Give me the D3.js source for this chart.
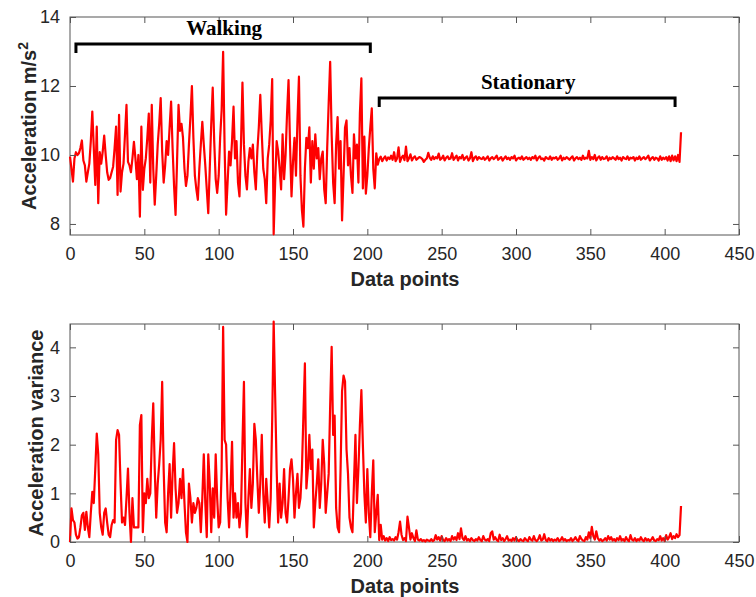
<!DOCTYPE html>
<html><head><meta charset="utf-8">
<script src="https://cdn.jsdelivr.net/npm/d3@7"></script>
<style>body{margin:0;background:#fff}</style>
</head><body>
<svg id="c" width="756" height="597"></svg>
<script>
// ---- data ----
const accelWalking = [9.95,9.6,9.23,9.9,10.08,10.0,10.05,10.2,10.42,9.84,9.7,9.23,9.5,9.75,10.4,11.26,10.2,9.13,10.82,8.6,
10.08,9.75,10.1,10.56,10.0,9.5,9.28,9.33,9.5,9.66,10.2,10.82,8.84,11.16,8.94,9.5,9.75,10.6,11.45,9.8,
9.7,9.5,9.9,10.38,9.9,9.3,10.0,8.21,10.82,8.99,9.6,9.9,10.5,11.2,9.2,11.45,9.6,8.56,9.4,10.3,
10.9,11.65,10.1,9.2,9.7,10.4,10.0,10.8,11.55,10.2,9.1,8.26,9.8,11.45,10.7,10.9,10.5,9.6,9.1,9.4,
10.3,11.1,12.0,10.5,9.4,9.0,8.7,9.6,10.3,10.96,10.3,9.7,9.0,8.31,9.6,10.9,11.95,10.4,9.3,8.9,
9.4,10.5,11.3,12.99,10.2,8.27,9.2,10.1,9.7,10.4,11.4,9.9,10.4,9.2,8.8,10.3,12.1,10.3,9.4,9.0,
9.8,10.2,9.9,10.3,9.5,9.0,10.1,10.8,11.74,10.6,9.6,9.3,8.6,9.9,10.3,11.0,12.2,7.7,9.2,10.4,
10.1,9.6,9.0,10.6,9.3,10.0,11.2,12.17,10.3,8.8,9.8,10.5,9.4,11.0,12.27,9.4,8.4,7.92,9.6,10.5,
10.2,10.8,9.2,10.4,9.6,10.6,9.9,10.2,9.3,9.9,10.1,9.0,8.6,10.2,11.5,12.7,10.6,9.2,8.6,10.3,
11.1,9.6,10.4,8.1,9.4,10.8,11.0,9.7,10.2,9.4,8.9,10.6,9.9,10.3,9.2,11.2,12.22,9.03,10.53,8.88,
9.4,10.2,10.8,11.35,9.6,9.03];
const accelStationary = [10.05,9.72,9.88,9.95,9.82,9.9,9.96,9.84,9.93,9.88,
9.98,9.86,10.08,9.82,9.9,10.22,9.8,9.92,9.98,9.85,
10.24,9.82,9.9,10.02,9.84,9.92,9.96,9.86,9.9,9.94,
9.92,9.88,9.8,9.86,9.9,10.06,9.92,9.86,9.96,9.88,
9.94,9.9,10.04,9.86,9.9,9.98,9.84,9.92,9.96,9.88,
9.9,10.05,9.86,9.92,9.98,9.84,9.94,9.9,10.0,9.86,
9.92,9.96,9.84,9.9,10.08,9.82,9.92,9.96,9.86,9.94,
9.9,9.88,9.94,9.86,9.9,9.96,9.84,9.9,9.94,9.88,
9.92,9.98,9.86,9.9,9.94,9.84,9.9,9.96,9.88,9.92,
9.86,9.94,9.9,9.98,9.84,9.9,9.92,9.88,9.96,9.86,
9.9,9.94,9.88,9.92,9.86,9.94,9.9,9.98,9.84,9.92,
9.96,9.88,9.9,9.84,9.94,9.9,9.88,9.96,9.86,9.92,
9.9,9.94,9.86,9.9,9.98,9.84,9.92,9.88,9.94,9.9,
9.86,9.92,9.96,9.84,9.9,9.94,9.88,9.92,9.86,9.98,
9.88,9.92,9.9,10.12,9.86,9.94,9.88,10.0,9.84,9.92,
9.96,9.86,9.94,9.88,9.9,9.96,9.84,9.92,9.88,9.94,
9.9,9.86,9.96,9.88,9.92,9.84,9.94,9.9,9.88,9.96,
9.86,9.92,9.9,9.94,9.84,9.92,9.88,9.96,9.86,9.9,
9.94,9.88,9.92,9.98,9.84,9.9,9.94,9.86,9.92,9.9,
9.84,9.96,9.86,9.92,9.88,9.94,9.84,9.96,9.82,9.98,
9.84,9.96,9.82,10.0,9.8,10.66];
const varWalking = [0.0,0.69,0.45,0.4,0.15,0.07,0.1,0.3,0.55,0.6,0.25,0.62,0.3,0.1,0.6,1.03,0.8,1.5,2.23,1.8,
0.6,0.3,0.15,0.6,0.69,0.4,0.15,0.1,0.35,0.45,0.4,2.1,2.3,2.2,1.2,0.4,0.5,0.35,0.9,1.51,
0.6,0.0,0.9,0.3,0.3,0.3,0.3,2.4,2.61,0.2,1.0,0.8,1.3,0.9,1.0,2.1,2.85,1.5,0.5,1.2,
1.6,2.1,3.29,1.5,0.4,0.2,1.0,1.6,0.5,1.4,2.03,1.1,0.6,0.8,1.3,0.9,1.5,0.8,0.2,0.0,
1.2,0.9,0.4,0.8,0.6,0.7,0.9,0.8,0.2,0.9,1.8,0.8,0.1,1.8,1.2,0.2,1.1,0.5,1.8,0.9,
0.3,0.4,1.5,4.42,2.1,2.0,0.9,0.3,1.1,2.06,0.5,1.0,0.5,0.8,0.3,0.6,2.0,3.29,0.8,0.1,
0.9,1.5,0.7,1.2,2.43,2.1,1.3,0.6,1.2,2.2,1.0,0.4,1.3,0.8,0.3,0.9,2.5,4.53,3.0,1.5,
0.4,1.2,0.5,0.8,1.5,0.6,0.4,0.9,1.5,1.7,1.3,0.5,1.0,1.4,0.7,0.9,1.5,2.6,3.67,1.1,
1.5,2.2,1.5,1.9,0.3,0.8,1.2,1.7,0.7,1.2,2.1,1.6,0.6,1.0,1.4,2.8,4.01,2.2,2.6,0.7,
0.3,0.2,1.5,3.1,3.42,3.3,1.9,1.4,0.5,0.3,0.2,1.2,2.2,0.8,1.5,2.4,3.12,2.0,1.0,0.4,
1.5,0.6,0.1,1.0,1.68,0.2];
const varStationary = [0.6,0.97,0.04,0.35,0.05,0.12,0.03,0.08,0.02,0.1,
0.04,0.06,0.03,0.1,0.05,0.2,0.42,0.15,0.04,0.08,
0.02,0.52,0.3,0.05,0.18,0.08,0.02,0.24,0.05,0.03,
0.06,0.02,0.04,0.01,0.05,0.03,0.02,0.06,0.02,0.04,
0.14,0.05,0.1,0.03,0.12,0.04,0.02,0.08,0.03,0.06,
0.02,0.12,0.05,0.1,0.04,0.18,0.06,0.28,0.08,0.04,
0.12,0.03,0.06,0.02,0.08,0.04,0.02,0.06,0.03,0.1,
0.04,0.02,0.12,0.05,0.03,0.06,0.02,0.18,0.22,0.05,
0.1,0.04,0.02,0.15,0.04,0.08,0.02,0.06,0.12,0.03,
0.05,0.02,0.08,0.03,0.1,0.04,0.02,0.06,0.03,0.02,
0.08,0.04,0.02,0.1,0.05,0.03,0.12,0.04,0.02,0.06,
0.14,0.03,0.05,0.16,0.04,0.02,0.08,0.03,0.06,0.02,
0.05,0.03,0.08,0.02,0.04,0.1,0.03,0.06,0.02,0.04,
0.03,0.08,0.02,0.05,0.1,0.04,0.02,0.12,0.06,0.03,
0.02,0.1,0.05,0.2,0.08,0.31,0.12,0.05,0.22,0.08,
0.03,0.06,0.02,0.04,0.08,0.03,0.12,0.05,0.1,0.03,
0.06,0.02,0.08,0.04,0.12,0.03,0.06,0.02,0.1,0.04,
0.02,0.14,0.05,0.03,0.08,0.02,0.06,0.03,0.1,0.04,
0.02,0.08,0.03,0.06,0.02,0.05,0.1,0.03,0.02,0.06,
0.04,0.12,0.03,0.08,0.02,0.14,0.05,0.1,0.18,0.06,
0.12,0.08,0.16,0.1,0.14,0.74];
const xTicks = [0,50,100,150,200,250,300,350,400,450];
const accelTicks = [8,10,12,14];
const varTicks = [0,1,2,3,4];
const segments = [{label:"Walking", from:4, to:202}, {label:"Stationary", from:208, to:407}];

const accel = accelWalking.concat(accelStationary);
const variance = varWalking.concat(varStationary);

// ---- drawing ----
const svg = d3.select("#c");
const L = 70, R = 739;
const axisColor = "#555";
const textColor = "#262626";
const sans = "Liberation Sans, Arial, sans-serif";

function panel(data, y0, y1, yDomain, yTicks, yLabel, labelX, labelSup) {
  const x = d3.scaleLinear().domain([0, 450]).range([L, R]);
  const y = d3.scaleLinear().domain(yDomain).range([y1, y0]);
  const g = svg.append("g");
  g.append("rect").attr("x", L).attr("y", y0).attr("width", R - L).attr("height", y1 - y0)
    .attr("fill", "none").attr("stroke", axisColor).attr("stroke-width", 1);
  g.append("path").datum(data)
    .attr("fill", "none").attr("stroke", "#ff0000").attr("stroke-width", 2.2)
    .attr("stroke-linejoin", "round")
    .attr("d", d3.line().x((d, i) => x(i)).y(d => y(d)));
  const ax = (gen, tr) => {
    const a = g.append("g").attr("transform", tr).call(gen);
    a.select(".domain").remove();
    a.selectAll(".tick line").attr("stroke", axisColor);
    a.selectAll(".tick text").attr("fill", textColor).style("font-family", sans).style("font-size", "18px");
    return a;
  };
  ax(d3.axisBottom(x).tickValues(xTicks).tickSize(-6).tickPadding(12).tickFormat(d3.format("d")), `translate(0,${y1})`);
  ax(d3.axisTop(x).tickValues(xTicks).tickSize(-6).tickFormat(""), `translate(0,${y0})`);
  ax(d3.axisLeft(y).tickValues(yTicks).tickSize(-6).tickPadding(10).tickFormat(d3.format("d")), `translate(${L},0)`);
  ax(d3.axisRight(y).tickValues(yTicks).tickSize(-6).tickFormat(""), `translate(${R},0)`);
  g.append("text").attr("x", 405).attr("y", y1 + 51).attr("text-anchor", "middle")
    .attr("fill", textColor).style("font-family", sans)
    .style("font-size", "20px").style("font-weight", "bold").text("Data points");
  const t = g.append("text").attr("transform", `translate(${labelX},${(y0 + y1) / 2}) rotate(-90)`)
    .attr("text-anchor", "middle").attr("fill", textColor)
    .style("font-family", sans).style("font-size", "20px").style("font-weight", "bold");
  t.append("tspan").text(yLabel);
  if (labelSup) t.append("tspan").attr("dy", -8).style("font-size", "14px").text(labelSup);
  return {x, y};
}

const topPanel = panel(accel, 17, 235, [7.68, 14], accelTicks, "Acceleration m/s", 36, "2");
panel(variance, 324, 542, [0, 4.48], varTicks, "Acceleration variance", 43, null);

const bracketY = [44, 98];
segments.forEach((s, k) => {
  const by = bracketY[k];
  const x0 = topPanel.x(s.from), x1 = topPanel.x(s.to);
  svg.append("path").attr("d", `M${x0},${by + 9} L${x0},${by} L${x1},${by} L${x1},${by + 9}`)
    .attr("fill", "none").attr("stroke", "#000").attr("stroke-width", 3);
  svg.append("text").attr("x", (x0 + x1) / 2 + 1).attr("y", by - 9).attr("text-anchor", "middle")
    .style("font-family", "Liberation Serif, Times New Roman, serif").style("font-size", "21px")
    .style("font-weight", "bold").attr("fill", "#000").text(s.label);
});
</script>
</body></html>
